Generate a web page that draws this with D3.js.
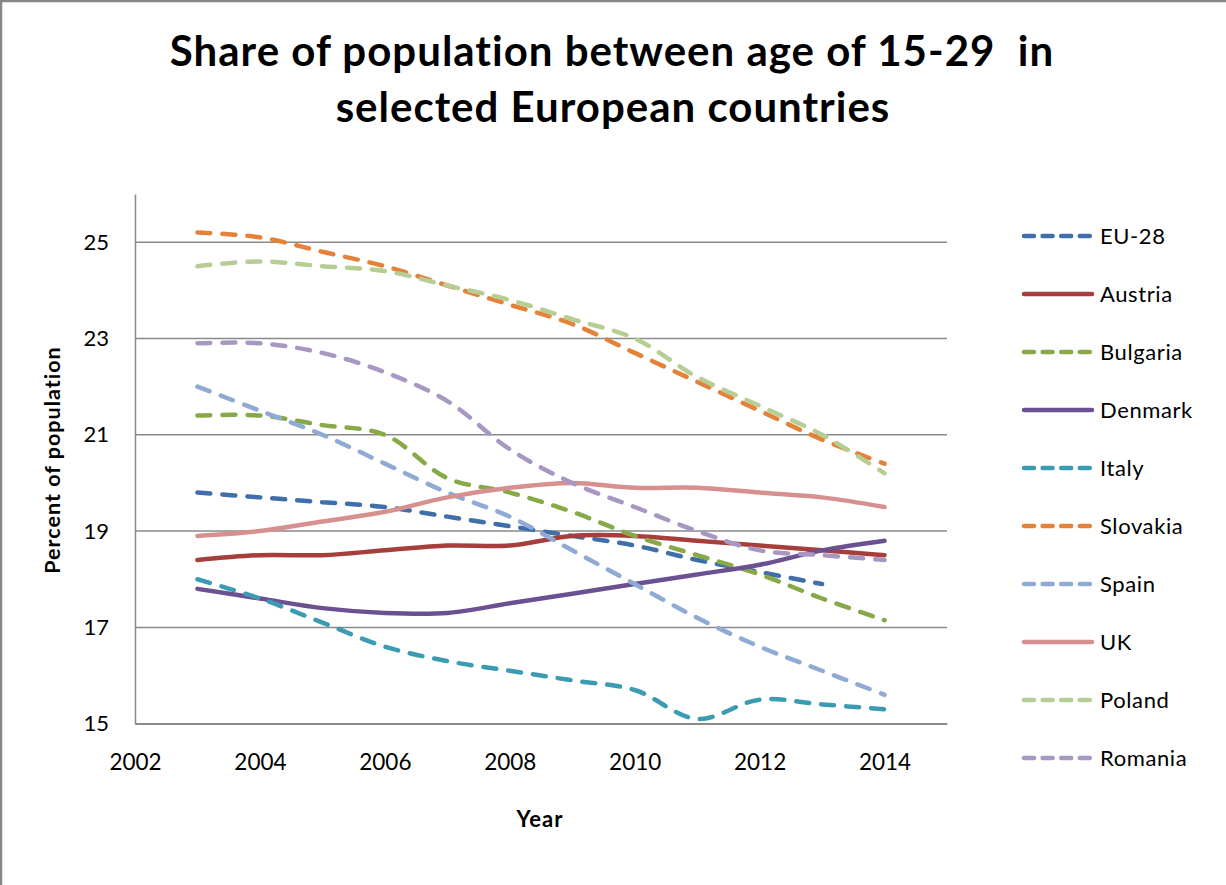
<!DOCTYPE html>
<html>
<head>
<meta charset="utf-8">
<script src="https://cdn.jsdelivr.net/npm/d3@7"></script>
<style>
  body { margin: 0; background: #fff; }
  svg { display: block; }
  text { font-family: Lato, "Open Sans", sans-serif; fill: #000; }
</style>
</head>
<body>
<div id="chart"></div>
<script>
// Data
const years = [2003, 2004, 2005, 2006, 2007, 2008, 2009, 2010, 2011, 2012, 2013, 2014];
const xTicks = [2002, 2004, 2006, 2008, 2010, 2012, 2014];
const yTicks = [15, 17, 19, 21, 23, 25];

const eu28     = [19.8, 19.7, 19.6, 19.5, 19.3, 19.1, 18.9, 18.7, 18.4, 18.15, 17.9, null];
const austria  = [18.4, 18.5, 18.5, 18.6, 18.7, 18.7, 18.9, 18.9, 18.8, 18.7, 18.6, 18.5];
const bulgaria = [21.4, 21.4, 21.2, 21.0, 20.1, 19.8, 19.4, 18.9, 18.5, 18.1, 17.6, 17.15];
const denmark  = [17.8, 17.6, 17.4, 17.3, 17.3, 17.5, 17.7, 17.9, 18.1, 18.3, 18.6, 18.8];
const italy    = [18.0, 17.6, 17.1, 16.6, 16.3, 16.1, 15.9, 15.7, 15.1, 15.5, 15.4, 15.3];
const slovakia = [25.2, 25.1, 24.8, 24.5, 24.1, 23.7, 23.3, 22.7, 22.1, 21.5, 20.9, 20.4];
const spain    = [22.0, 21.5, 21.0, 20.4, 19.8, 19.3, 18.6, 17.9, 17.2, 16.6, 16.1, 15.6];
const uk       = [18.9, 19.0, 19.2, 19.4, 19.7, 19.9, 20.0, 19.9, 19.9, 19.8, 19.7, 19.5];
const poland   = [24.5, 24.6, 24.5, 24.4, 24.1, 23.8, 23.4, 23.0, 22.2, 21.6, 21.0, 20.2];
const romania  = [22.9, 22.9, 22.7, 22.3, 21.7, 20.7, 20.0, 19.5, 19.0, 18.6, 18.5, 18.4];

const series = [
  { name: "EU-28",    values: eu28,     color: "#3f6ea9", dashed: true },
  { name: "Austria",  values: austria,  color: "#a63f3c", dashed: false },
  { name: "Bulgaria", values: bulgaria, color: "#87a947", dashed: true },
  { name: "Denmark",  values: denmark,  color: "#6b5191", dashed: false },
  { name: "Italy",    values: italy,    color: "#3b9bb3", dashed: true },
  { name: "Slovakia", values: slovakia, color: "#e4823a", dashed: true },
  { name: "Spain",    values: spain,    color: "#8faad3", dashed: true },
  { name: "UK",       values: uk,       color: "#d69090", dashed: false },
  { name: "Poland",   values: poland,   color: "#b6cd94", dashed: true },
  { name: "Romania",  values: romania,  color: "#a797c2", dashed: true }
];

const width = 1226, height = 885;
const plot = { left: 135, right: 947, top: 194, bottom: 723.7 };

const svg = d3.select("#chart").append("svg")
  .attr("width", width).attr("height", height);

// outer frame (only top and left edges show)
svg.append("path")
  .attr("d", `M1,${height} V1 H${width}`)
  .attr("fill", "none").attr("stroke", "#878787").attr("stroke-width", 2.5);

// Title
const title = svg.append("text")
  .attr("text-anchor", "middle")
  .style("white-space", "pre")
  .style("font-size", "42px").style("font-weight", "bold")
  .style("letter-spacing", "1px");
title.append("tspan").attr("x", 612).attr("y", 66).text("Share of population between age of 15-29  in");
title.append("tspan").attr("x", 613).attr("y", 122).text("selected European countries");

// Scales
const x = d3.scaleLinear().domain([2002, 2015]).range([plot.left, plot.right]);
const y = d3.scaleLinear().domain([15, 26]).range([plot.bottom, plot.top]);

// Gridlines
svg.append("g")
  .selectAll("line")
  .data(yTicks)
  .enter().append("line")
  .attr("x1", plot.left).attr("x2", plot.right)
  .attr("y1", d => y(d)).attr("y2", d => y(d))
  .attr("stroke", "#8a8a8a").attr("stroke-width", 1.5);

// Axes
const yAxis = svg.append("g")
  .attr("transform", `translate(${plot.left},0)`)
  .call(d3.axisLeft(y).tickValues(yTicks).tickSize(0).tickPadding(26));
yAxis.select(".domain").attr("stroke", "#8a8a8a").attr("stroke-width", 1.5);
yAxis.selectAll("text").style("font-size", "22px").style("font-family", "Lato, sans-serif").attr("fill", "#000");

const xAxis = svg.append("g")
  .attr("transform", `translate(0,${plot.bottom})`)
  .call(d3.axisBottom(x).tickValues(xTicks).tickFormat(d3.format("d")).tickSize(0).tickPadding(30));
xAxis.select(".domain").attr("stroke", "#8a8a8a").attr("stroke-width", 1.5);
xAxis.selectAll("text").style("font-size", "22.5px").style("font-family", "Lato, sans-serif").attr("fill", "#000");

// Axis titles
svg.append("text")
  .attr("transform", "translate(52,460) rotate(-90)")
  .attr("text-anchor", "middle").attr("dy", "0.35em")
  .style("font-size", "21.5px").style("font-weight", "bold")
  .style("letter-spacing", "1px")
  .text("Percent of population");

svg.append("text")
  .attr("x", 540).attr("y", 827)
  .attr("text-anchor", "middle")
  .style("font-size", "22px").style("font-weight", "bold")
  .style("letter-spacing", "1px")
  .text("Year");

// Lines
const line = d3.line()
  .defined(d => d.v !== null)
  .x(d => x(d.year))
  .y(d => y(d.v))
  .curve(d3.curveCatmullRom.alpha(0.5));

svg.append("g")
  .selectAll("path")
  .data(series)
  .enter().append("path")
  .attr("d", s => line(years.map((yr, i) => ({ year: yr, v: s.values[i] }))))
  .attr("fill", "none")
  .attr("stroke", s => s.color)
  .attr("stroke-width", 4.5)
  .attr("stroke-linecap", "round")
  .attr("stroke-linejoin", "round")
  .attr("stroke-dasharray", s => s.dashed ? "13,12" : null);

// Legend
const legend = svg.append("g");
series.forEach((s, i) => {
  const ly = 236 + i * 58;
  legend.append("line")
    .attr("x1", 1024).attr("x2", 1092)
    .attr("y1", ly).attr("y2", ly)
    .attr("stroke", s.color).attr("stroke-width", 4.5)
    .attr("stroke-linecap", "round")
    .attr("stroke-dasharray", s.dashed ? "10,8.6" : null);
  legend.append("text")
    .attr("x", 1100).attr("y", ly).attr("dy", "0.35em")
    .style("font-size", "22px")
    .style("letter-spacing", "0.6px")
    .text(s.name);
});
</script>
</body>
</html>
